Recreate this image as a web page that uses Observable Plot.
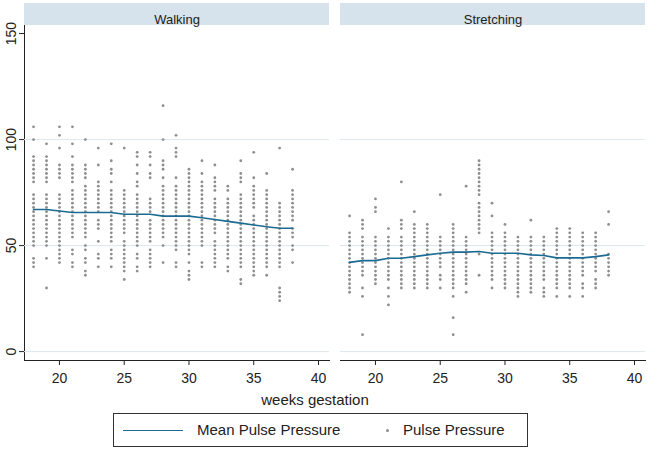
<!DOCTYPE html>
<html>
<head>
<meta charset="utf-8">
<script src="https://cdn.jsdelivr.net/npm/d3@7"></script>
<script src="https://cdn.jsdelivr.net/npm/@observablehq/plot@0.6"></script>
<style>
  body { margin: 0; background: #fff; font-family: "Liberation Sans", Arial, sans-serif; }
  #wrap { position: relative; width: 657px; height: 450px; }
  #xlabel { position: absolute; left: 0; width: 630px; top: 391px; text-align: center; font-size: 15px; color: #222; line-height: 18px; }
  #legend { position: absolute; left: 113px; top: 413px; width: 413px; height: 32px; border: 1px solid #333; box-sizing: content-box; font-size: 15px; color: #222; }
  #legend .ln { position: absolute; left: 9px; top: 16px; width: 60px; height: 0; border-top: 1.6px solid #1b6b93; }
  #legend .t1 { position: absolute; left: 83px; top: 7px; line-height: 18px; }
  #legend .dt { position: absolute; left: 272px; top: 15px; width: 3px; height: 3px; border-radius: 50%; background: #8e8e8e; }
  #legend .t2 { position: absolute; left: 289px; top: 7px; line-height: 18px; }
</style>
</head>
<body>
<div id="wrap">
  <div id="chart"></div>
  <div id="xlabel">weeks gestation</div>
  <div id="legend"><span class="ln"></span><span class="t1">Mean Pulse Pressure</span><span class="dt"></span><span class="t2">Pulse Pressure</span></div>
</div>
<script>
const panels = ["Walking", "Stretching"];
const weeks = [18,19,20,21,22,23,24,25,26,27,28,29,30,31,32,33,34,35,36,37,38];
const xTicks = [20,25,30,35,40];
const yTicks = [0,50,100,150];
const gridTicks = [0,50,100];

const walkingPP = [
  [106,100,92,90,88,86,84,82,80,74,72,70,68,66,64,62,60,58,56,54,52,50,44,42,40],
  [98,92,90,88,86,84,82,80,74,72,70,68,66,64,62,60,58,56,54,52,50,44,30],
  [106,102,96,88,86,84,82,74,72,70,68,66,64,62,60,58,56,54,52,50,48,46,44,42],
  [106,98,92,88,86,84,82,80,76,74,72,70,68,66,64,62,60,58,56,54,48,46,42,40],
  [100,88,86,84,82,78,76,74,72,70,68,66,64,62,60,58,56,54,50,48,44,42,38,36],
  [96,88,80,78,76,74,72,70,68,66,62,60,58,52,46,44,40],
  [98,90,86,84,80,76,74,72,70,68,66,64,62,60,58,56,54,52,48,46,44,40],
  [96,76,74,72,70,68,66,64,62,60,58,56,52,50,48,46,44,42,40,38,34],
  [94,92,88,84,80,78,74,72,70,68,66,64,62,60,58,56,54,52,50,46,44,40,38],
  [94,92,88,84,82,72,70,68,66,62,60,58,56,54,52,48,46,44,42,40],
  [116,100,90,88,86,82,78,76,74,72,70,68,66,64,62,60,58,56,54,50,42],
  [102,96,94,92,82,78,76,74,72,70,68,66,64,62,60,58,56,54,52,50,48,42,40],
  [86,84,82,80,78,76,74,72,70,68,66,64,62,60,58,56,54,52,50,48,46,42,38,36,34],
  [90,84,80,78,76,74,72,70,68,66,64,62,60,58,56,54,52,50,42,40],
  [88,82,80,78,76,72,70,68,66,64,62,60,58,56,52,50,48,46,44,42,40],
  [78,76,72,70,68,66,64,62,60,58,56,54,52,50,48,46,44,40,38],
  [90,84,82,80,74,72,70,68,66,64,62,60,58,56,54,52,50,48,46,44,42,40,34,32],
  [94,82,78,76,74,72,70,68,64,62,60,58,56,54,52,50,48,46,44,42,40,38,36],
  [84,76,74,72,70,68,66,64,62,60,58,56,54,52,50,48,46,44,42,40,36],
  [96,70,68,66,64,62,60,58,56,54,52,50,48,46,44,42,40,30,28,26,24],
  [86,76,74,72,70,68,66,64,62,58,56,54,50,48,42]
];

const stretchingPP = [
  [64,56,54,52,50,48,46,44,42,40,38,36,34,32,30,28],
  [62,60,58,54,52,50,48,46,44,42,40,38,36,30,26,8],
  [72,68,66,54,52,50,48,46,44,42,40,38,36,34,32],
  [58,54,52,50,48,46,44,42,40,38,36,34,30,26,22],
  [80,62,60,58,54,52,50,48,46,44,42,40,38,36,34,32,30],
  [66,60,58,56,54,52,50,48,46,44,42,40,38,36,34,32,30],
  [60,58,56,54,52,50,48,46,44,42,40,38,36,34,32,30],
  [74,54,52,50,48,46,44,42,40,36,34,30],
  [60,58,56,54,52,50,48,46,44,42,40,38,36,34,32,30,26,16,8],
  [78,54,52,50,48,46,44,42,40,38,36,34,32,28],
  [90,88,86,84,82,80,78,76,74,70,68,66,64,62,60,58,56,46,36],
  [70,64,56,54,52,50,48,46,44,42,40,38,36,34,30],
  [60,56,54,52,50,48,46,44,42,40,38,36,34,32,30],
  [54,52,50,48,46,44,42,40,38,36,34,32,30,28,26],
  [62,54,52,50,48,46,44,42,40,38,36,34,32,30,28],
  [54,52,50,48,46,44,42,40,38,36,34,30,28,26],
  [58,56,54,52,50,48,46,44,42,40,38,36,34,32,30,26],
  [58,56,54,52,50,48,46,44,42,40,38,36,34,32,30,26],
  [56,54,52,50,48,46,44,42,40,38,36,32,30,26],
  [56,54,52,50,48,46,44,42,40,38,34,32,30],
  [66,60,46,44,42,40,38,36]
];

const walkingMean = [67,67,66.3,65.6,65.6,65.6,65.6,64.8,64.8,64.8,63.9,63.9,63.9,63.1,62.3,61.4,60.6,59.7,58.9,58.2,58.2];
const stretchingMean = [42.1,42.9,42.9,44,44,44.8,45.6,46.4,46.9,46.9,47.2,46.4,46.4,46.4,45.6,45.3,44.2,44.2,44.2,44.8,45.6];

const rows = [];
weeks.forEach((w, i) => {
  walkingPP[i].forEach(v => rows.push({panel: "Walking", week: w, pp: v}));
  stretchingPP[i].forEach(v => rows.push({panel: "Stretching", week: w, pp: v}));
});
const meanRows = [];
weeks.forEach((w, i) => {
  meanRows.push({panel: "Walking", week: w, pp: walkingMean[i]});
  meanRows.push({panel: "Stretching", week: w, pp: stretchingMean[i]});
});

const W = 657, H = 410, MT = 25, MB = 50;
const chart = Plot.plot({
  width: W, height: H,
  marginTop: MT, marginBottom: MB, marginLeft: 24, marginRight: 12,
  style: {fontFamily: "Liberation Sans, Arial, sans-serif", fontSize: "14px", color: "#222", background: "white"},
  fx: {domain: panels, axis: null, paddingInner: 0.035, paddingOuter: 0},
  x: {domain: [17.3, 40.85], ticks: xTicks, tickSize: 5, tickPadding: 8, line: true, label: null},
  y: {domain: [-4.2, 153.8], ticks: yTicks, tickSize: 5, tickPadding: 4, tickRotate: -90, line: true, label: null},
  marks: [
    Plot.rect(panels, {fx: d => d, fill: "#d6e2ec", insetTop: -(MT - 3), insetBottom: H - MT - MB}),
    Plot.text(panels, {fx: d => d, text: d => d, frameAnchor: "top", dy: -11, fontSize: 13, fill: "#222"}),
    Plot.gridY(gridTicks, {stroke: "#dde7f0", strokeOpacity: 1}),
    Plot.dot(rows, {fx: "panel", x: "week", y: "pp", r: 1.4, fill: "#8e8e8e"}),
    Plot.line(meanRows, {fx: "panel", x: "week", y: "pp", stroke: "#1b6b93", strokeWidth: 1.6})
  ]
});
document.getElementById("chart").appendChild(chart);
</script>
</body>
</html>
